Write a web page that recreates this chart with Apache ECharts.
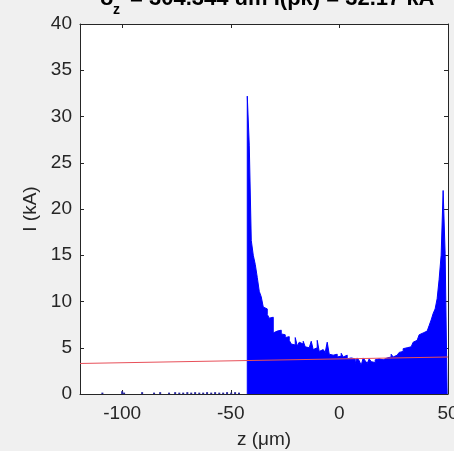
<!DOCTYPE html>
<html><head><meta charset="utf-8">
<script src="https://cdn.jsdelivr.net/npm/echarts@6/dist/echarts.min.js"></script>
<style>html,body{margin:0;padding:0;background:#f0f0f0}#c{width:454px;height:451px}</style>
</head><body><div id="c"></div><script>
// Histogram of current profile
const binStart = -42.4;
const binWidth = 0.92;
const current = [
  32.2, 26.9, 16.6, 15.0, 14.0, 12.6, 11.1, 10.5, 9.4, 9.2,
  8.6, 8.2, 8.3, 6.6, 6.8, 7.0, 6.9, 6.5, 6.4, 6.1,
  6.2, 5.8, 5.4, 5.3, 6.1, 5.2, 5.6, 5.4, 5.7, 5.1,
  5.0, 5.2, 5.7, 4.8, 5.0, 5.8, 4.6, 4.8, 4.6, 4.5,
  5.6, 4.3, 4.2, 4.4, 4.3, 4.0, 4.1, 4.4, 4.0, 4.2,
  3.8, 3.9, 3.7, 3.8, 3.3, 3.9, 3.6, 3.1, 3.9, 3.6,
  3.3, 3.8, 3.5, 3.4, 3.7, 3.8, 3.6, 3.7, 3.5, 3.9,
  3.7, 4.0, 4.3, 4.0, 4.2, 4.4, 4.5, 4.6, 4.9, 5.0,
  4.9, 5.1, 5.2, 5.6, 5.8, 5.7, 6.4, 6.6, 6.7, 6.8,
  7.0, 7.4, 8.0, 8.7, 9.2, 10.3, 12.4, 15.0, 22.0, 15.2
];
// sparse low-level tail ahead of the bunch
const tailZ = [-109.1, -100.0, -99.1, -90.8, -85.3, -82.5, -78.4, -75.6, -73.7, -71.9, -70.0, -68.2, -66.4, -64.5, -62.7, -60.9, -59.0, -57.2, -55.3, -53.5, -51.7, -49.8, -48.0, -46.2];
const tailI = [0.15, 0.3, 0.15, 0.2, 0.15, 0.2, 0.15, 0.2, 0.15, 0.15, 0.2, 0.15, 0.2, 0.15, 0.15, 0.2, 0.15, 0.2, 0.15, 0.15, 0.2, 0.15, 0.2, 0.15];
// fitted line
const fitZ = [-119.4, 50];
const fitI = [3.3, 4.0];
// axes
const xMin = -119.4, xMax = 50;
const xTicks = [-100, -50, 0, 50];
const yMin = 0, yMax = 40, yStep = 5;

const titleText = '= 304.344 um I(pk) = 32.17 kA';

const histPts = [[binStart, 0]];
current.forEach((v, i) => histPts.push([binStart + i * binWidth, v]));
const binEnd = binStart + current.length * binWidth;
histPts.push([binEnd, current[current.length - 1]]);
histPts.push([binEnd, 0]);

const axisCol = '#262626';
const font = 'Liberation Sans, Arial, Helvetica, sans-serif';
const chart = echarts.init(document.getElementById('c'), null, {renderer: 'canvas'});
chart.setOption({
  animation: false,
  backgroundColor: '#f0f0f0',
  textStyle: {fontFamily: font},
  title: [
    {text: 'σ', left: 100, top: -12, padding: 0, textStyle: {fontSize: 22, fontWeight: 'bold', color: '#000', fontFamily: font}},
    {text: 'z', left: 113, top: 3, padding: 0, textStyle: {fontSize: 14, fontWeight: 'bold', color: '#000', fontFamily: font}},
    {text: titleText, left: 130, top: -12, padding: 0, textStyle: {fontSize: 22, fontWeight: 'bold', color: '#000', fontFamily: font}}
  ],
  grid: {left: 80, right: 6, top: 24, bottom: 57, containLabel: false, outerBoundsMode: 'none',
         show: true, backgroundColor: '#ffffff', borderWidth: 0},
  xAxis: [
    {type: 'value', min: xMin, max: xMax, position: 'bottom',
     name: 'z (μm)', nameLocation: 'middle', nameGap: 36,
     nameTextStyle: {fontSize: 19, color: axisCol, fontFamily: font},
     axisLine: {show: true, onZero: false, lineStyle: {color: axisCol, width: 1}},
     axisTick: {show: true, inside: true, length: 4, customValues: xTicks, lineStyle: {color: axisCol}},
     axisLabel: {customValues: xTicks, fontSize: 19, color: axisCol, margin: 10, fontFamily: font},
     splitLine: {show: false}},
    {type: 'value', min: xMin, max: xMax, position: 'top',
     axisLine: {show: true, onZero: false, lineStyle: {color: axisCol, width: 1}},
     axisTick: {show: true, inside: true, length: 4, customValues: xTicks, lineStyle: {color: axisCol}},
     axisLabel: {show: false}, splitLine: {show: false}}
  ],
  yAxis: [
    {type: 'value', min: yMin, max: yMax, interval: yStep, position: 'left',
     name: 'I (kA)', nameLocation: 'middle', nameGap: 38,
     nameTextStyle: {fontSize: 19, color: axisCol, fontFamily: font},
     axisLine: {show: true, onZero: false, lineStyle: {color: axisCol, width: 1}},
     axisTick: {show: true, inside: true, length: 4, lineStyle: {color: axisCol}},
     axisLabel: {fontSize: 19, color: axisCol, margin: 8, fontFamily: font},
     splitLine: {show: false}},
    {type: 'value', min: yMin, max: yMax, interval: yStep, position: 'right',
     axisLine: {show: true, onZero: false, lineStyle: {color: axisCol, width: 1}},
     axisTick: {show: true, inside: true, length: 4, lineStyle: {color: axisCol}},
     axisLabel: {show: false}, splitLine: {show: false}}
  ],
  series: [
    {type: 'line', name: 'hist', step: 'end', data: histPts, showSymbol: false, symbol: 'none',
     lineStyle: {color: '#0000ff', width: 1}, areaStyle: {color: '#0000ff', opacity: 1}, z: 2},
    {type: 'bar', name: 'tail', data: tailZ.map((z, i) => [z, tailI[i]]), barWidth: 2,
     itemStyle: {color: '#2a2aa0'}, z: 2},
    {type: 'line', name: 'fit', data: fitZ.map((z, i) => [z, fitI[i]]), showSymbol: false, symbol: 'none',
     lineStyle: {color: '#e8505a', width: 1}, z: 3}
  ]
});
</script></body></html>
